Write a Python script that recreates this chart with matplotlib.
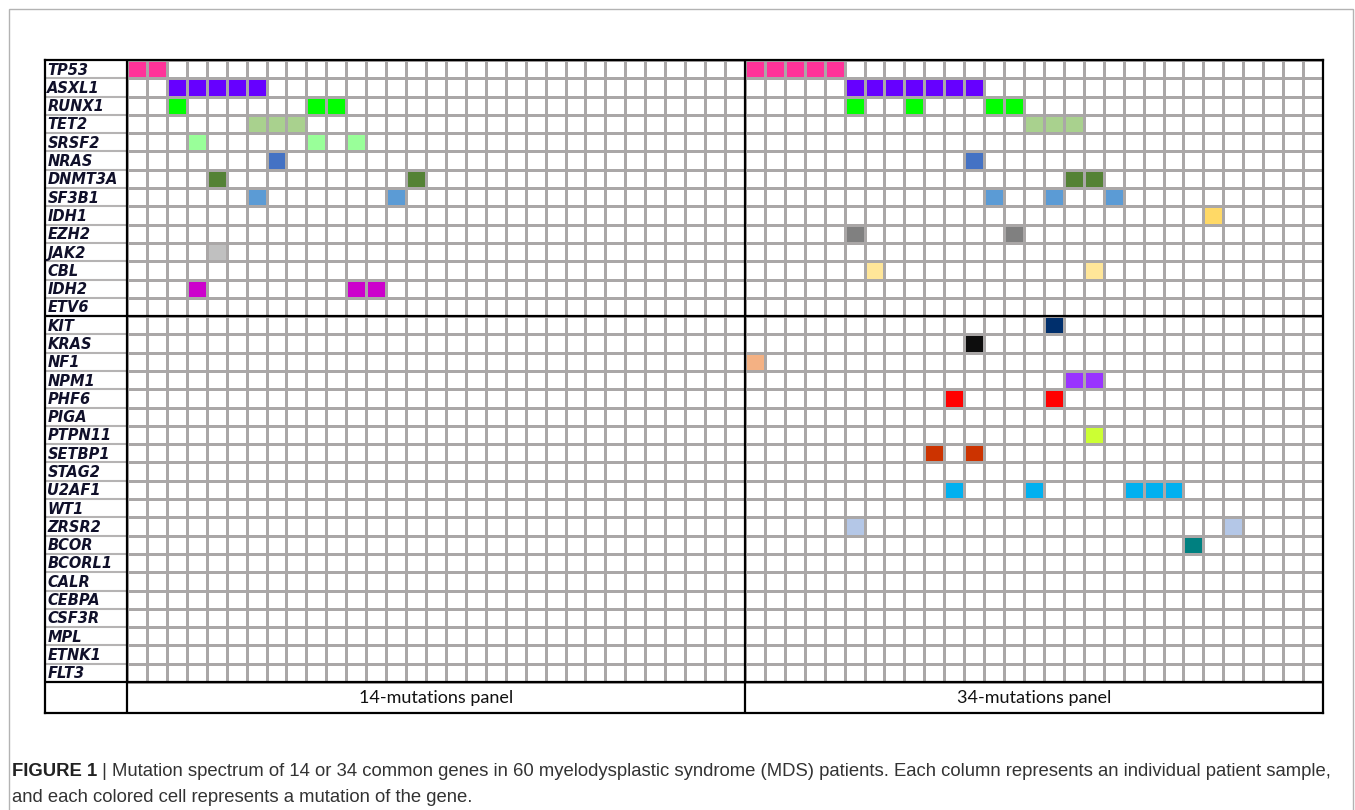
import numpy as np
import matplotlib
matplotlib.use("Agg")
import matplotlib.pyplot as plt
from matplotlib.colors import ListedColormap
from matplotlib.patches import Rectangle

# genes (rows), top to bottom
genes = ["TP53", "ASXL1", "RUNX1", "TET2", "SRSF2", "NRAS", "DNMT3A", "SF3B1",
         "IDH1", "EZH2", "JAK2", "CBL", "IDH2", "ETV6",
         "KIT", "KRAS", "NF1", "NPM1", "PHF6", "PIGA", "PTPN11", "SETBP1",
         "STAG2", "U2AF1", "WT1", "ZRSR2", "BCOR", "BCORL1", "CALR", "CEBPA",
         "CSF3R", "MPL", "ETNK1", "FLT3"]

gene_colors = {
    "TP53": "#ff3399", "ASXL1": "#6600ff", "RUNX1": "#00ff00", "TET2": "#a9d18e",
    "SRSF2": "#99ff99", "NRAS": "#4472c4", "DNMT3A": "#548235", "SF3B1": "#5b9bd5",
    "IDH1": "#ffd966", "EZH2": "#808080", "JAK2": "#c0c0c0", "CBL": "#ffe699",
    "IDH2": "#cc00cc", "KIT": "#002f6c", "KRAS": "#0d0d0d", "NF1": "#f4b183",
    "NPM1": "#9933ff", "PHF6": "#ff0000", "PTPN11": "#ccff33", "SETBP1": "#cc3300",
    "U2AF1": "#00b0f0", "ZRSR2": "#b4c7e7", "BCOR": "#008080",
}

panel_names = ["14-mutations panel", "34-mutations panel"]
n_patients = [31, 29]

# mutated patient columns per gene, counted from the start of each panel
hits_14 = {"TP53": [0, 1], "ASXL1": [2, 3, 4, 5, 6], "RUNX1": [2, 9, 10],
           "TET2": [6, 7, 8], "SRSF2": [3, 9, 11], "NRAS": [7], "DNMT3A": [4, 14],
           "SF3B1": [6, 13], "JAK2": [4], "IDH2": [3, 11, 12]}
hits_34 = {"TP53": [0, 1, 2, 3, 4], "ASXL1": [5, 6, 7, 8, 9, 10, 11],
           "RUNX1": [5, 8, 12, 13], "TET2": [14, 15, 16], "NRAS": [11],
           "DNMT3A": [16, 17], "SF3B1": [12, 15, 18], "IDH1": [23], "EZH2": [5, 13],
           "CBL": [6, 17], "KIT": [15], "KRAS": [11], "NF1": [0], "NPM1": [16, 17],
           "PHF6": [10, 15], "PTPN11": [17], "SETBP1": [9, 11],
           "U2AF1": [10, 14, 19, 20, 21], "ZRSR2": [5, 24], "BCOR": [22]}

caption_bold = "FIGURE 1"
caption_rest = (" | Mutation spectrum of 14 or 34 common genes in 60 myelodysplastic syndrome (MDS) "
                "patients. Each column represents an individual patient sample,")
caption_line2 = "and each colored cell represents a mutation of the gene."

# build the matrix of colour indices
color_genes = list(gene_colors.keys())
cmap = ListedColormap(["#ffffff"] + [gene_colors[g] for g in color_genes])
n_rows = len(genes)
n_cols = sum(n_patients)
mat = np.zeros((n_rows, n_cols))
for offset, hits in [(0, hits_14), (n_patients[0], hits_34)]:
    for g, cols in hits.items():
        for c in cols:
            mat[genes.index(g), offset + c] = color_genes.index(g) + 1

W, H = 1355, 810
fig = plt.figure(figsize=(W / 100, H / 100), dpi=100)

# light frame around the figure
fig.patches.append(Rectangle((9 / W, -0.05), (1353 - 9) / W, 1.05 - 9 / H,
                             transform=fig.transFigure, fill=False,
                             edgecolor="#b3b3b3", linewidth=1.0))

label_w = 82 / 19.93
label_row = 31 / 18.29
ax = fig.add_axes([45 / W, 1 - 713 / H, (1323 - 45) / W, (713 - 60) / H])
ax.set_xlim(-label_w, n_cols)
ax.set_ylim(n_rows + label_row, 0)
ax.set_xticks([])
ax.set_yticks([])
for s in ax.spines.values():
    s.set_linewidth(1.6)
    s.set_color("black")

grid_col = "#aaa7a7"
ax.pcolormesh(np.arange(n_cols + 1), np.arange(n_rows + 1), mat, cmap=cmap,
              vmin=0, vmax=len(color_genes), edgecolors=grid_col, linewidth=1.8)
# row separators in the label column
ax.hlines(np.arange(1, n_rows), -label_w, 0, colors="#b5b3b3", linewidth=1.5)

# black dividers
ax.axvline(0, color="black", linewidth=1.6)
ax.axvline(n_patients[0], color="black", linewidth=1.6)
ax.axhline(14, color="black", linewidth=1.6)
ax.axhline(n_rows, color="black", linewidth=1.6)

for i, g in enumerate(genes):
    ax.text(-label_w + 0.12, i + 0.55, g, ha="left", va="center", fontsize=10.5,
            fontweight="bold", fontstyle="italic", color="#10102a")

starts = [0, n_patients[0]]
for name, st, n in zip(panel_names, starts, n_patients):
    ax.text(st + n / 2, n_rows + label_row / 2 + 0.05, name, ha="center", va="center",
            fontsize=13, family="Lato", color="#111111")

t1 = fig.text(12 / W, 1 - 776 / H, caption_bold, fontsize=13.3, fontweight="bold",
              family="Liberation Sans", color="#222222")
ax.annotate(caption_rest, xy=(1, 0), xycoords=t1, va="bottom", ha="left",
            fontsize=13.3, family="Liberation Sans", color="#333333",
            annotation_clip=False)
fig.text(12 / W, 1 - 802 / H, caption_line2, fontsize=13.3,
         family="Liberation Sans", color="#333333")

fig.savefig("out.png", dpi=100)
